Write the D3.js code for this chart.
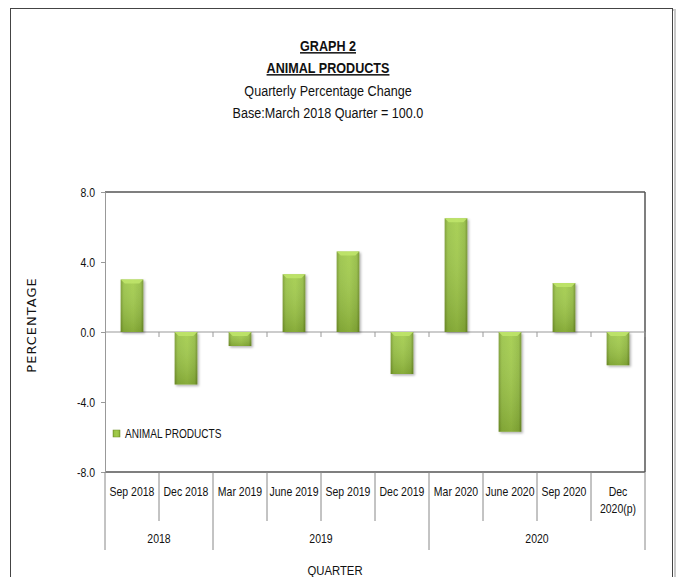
<!DOCTYPE html>
<html>
<head>
<meta charset="utf-8">
<script src="https://cdn.jsdelivr.net/npm/d3@7"></script>
<style>
body { margin: 0; background: #fff; }
text { font-family: "Liberation Sans", Arial, sans-serif; fill: #111; }
</style>
</head>
<body>
<script>
// values
var quarters = ["Sep 2018", "Dec 2018", "Mar 2019", "June 2019", "Sep 2019",
                "Dec 2019", "Mar 2020", "June 2020", "Sep 2020", "Dec 2020(p)"];
var values = [3.0, -3.0, -0.8, 3.3, 4.6, -2.4, 6.5, -5.7, 2.8, -1.9];
var years = ["2018", "2019", "2020"];
var yearCounts = [2, 4, 4];
var yTicks = [-8, -4, 0, 4, 8];
var titles = ["GRAPH 2", "ANIMAL PRODUCTS", "Quarterly Percentage Change", "Base:March 2018 Quarter = 100.0"];

var width = 680,
    height = 577;

// narrow text, like the Calibri of the original
var narrow = 0.84;

var svg = d3.select("body")
            .append("svg")
            .attr("width", width)
            .attr("height", height);

function label(parent, px, py, str, size) {
    return parent.append("text")
                 .attr("transform", "translate(" + px + "," + py + ") scale(" + narrow + ",1)")
                 .attr("text-anchor", "middle")
                 .style("font-size", size + "px")
                 .text(str);
}

var defs = svg.append("defs");
var grad = defs.append("linearGradient").attr("id", "barGrad")
               .attr("x1", "0").attr("x2", "1").attr("y1", "0").attr("y2", "0");
grad.append("stop").attr("offset", "0%").attr("stop-color", "#789a2e");
grad.append("stop").attr("offset", "14%").attr("stop-color", "#98c244");
grad.append("stop").attr("offset", "55%").attr("stop-color", "#a2cc4a");
grad.append("stop").attr("offset", "88%").attr("stop-color", "#92bb40");
grad.append("stop").attr("offset", "100%").attr("stop-color", "#6f8f28");

var shade = defs.append("linearGradient").attr("id", "barShade")
                .attr("x1", "0").attr("x2", "0").attr("y1", "0").attr("y2", "1");
shade.append("stop").attr("offset", "0%").attr("stop-color", "#fff").attr("stop-opacity", 0.08);
shade.append("stop").attr("offset", "100%").attr("stop-color", "#2a3a00").attr("stop-opacity", 0.22);

var shadow = defs.append("filter").attr("id", "shadow")
                 .attr("x", "-20%").attr("y", "-20%").attr("width", "150%").attr("height", "150%");
shadow.append("feDropShadow").attr("dx", 1.5).attr("dy", 1.5).attr("stdDeviation", 1.2)
      .attr("flood-color", "#000").attr("flood-opacity", 0.3);

// outer frame
svg.append("rect").attr("x", 12).attr("y", 10).attr("width", 663).attr("height", 580)
   .attr("fill", "none").attr("stroke", "#c8c8c8").attr("stroke-width", 2);
svg.append("rect").attr("x", 10.5).attr("y", 8.5).attr("width", 662).attr("height", 580)
   .attr("fill", "#fff").attr("stroke", "#444").attr("stroke-width", 1);

// titles
var titleY = [51, 73, 96, 118];
titles.forEach(function(t, i) {
    label(svg, 328, titleY[i], t, 15)
       .style("font-weight", i < 2 ? "bold" : "normal")
       .style("text-decoration", i < 2 ? "underline" : "none");
});

var margin = {left: 105, right: 645, top: 192, bottom: 472};

var x = d3.scaleBand()
          .domain(quarters)
          .range([margin.left, margin.right])
          .paddingInner(0)
          .paddingOuter(0);

var y = d3.scaleLinear()
          .domain([-8, 8])
          .range([margin.bottom, margin.top]);

var g = svg.append("g");

// plot frame: top, right, bottom darker, left axis gray
g.append("line").attr("x1", margin.left).attr("x2", margin.right)
 .attr("y1", y(8)).attr("y2", y(8)).attr("stroke", "#555").attr("stroke-width", 1.5);
g.append("line").attr("x1", margin.right).attr("x2", margin.right)
 .attr("y1", y(8)).attr("y2", y(-8)).attr("stroke", "#555").attr("stroke-width", 1.5);
g.append("line").attr("x1", margin.left).attr("x2", margin.right)
 .attr("y1", y(-8)).attr("y2", y(-8)).attr("stroke", "#555").attr("stroke-width", 1.5);

var fmt = d3.format(".1f");
var yAxis = d3.axisLeft(y)
              .tickValues(yTicks)
              .tickFormat(d => fmt(d).replace("\u2212", "-"))
              .tickSize(4)
              .tickPadding(6);

var ya = g.append("g")
          .attr("transform", "translate(" + margin.left + ",0)")
          .call(yAxis);
ya.select(".domain").attr("stroke", "#999");
ya.selectAll(".tick line").attr("stroke", "#999");
ya.selectAll(".tick text")
  .attr("x", null)
  .attr("transform", "translate(-10,0) scale(" + narrow + ",1)")
  .style("font-size", "12.5px")
  .style("font-family", "\"Liberation Sans\", sans-serif")
  .attr("fill", "#111");

// zero line with ticks at category boundaries
g.append("line").attr("x1", margin.left).attr("x2", margin.right)
 .attr("y1", y(0)).attr("y2", y(0)).attr("stroke", "#999").attr("stroke-width", 1);
g.selectAll(".zt")
 .data(quarters)
 .enter()
 .append("line")
    .attr("class", "zt")
    .attr("x1", d => x(d) + x.bandwidth())
    .attr("x2", d => x(d) + x.bandwidth())
    .attr("y1", y(0))
    .attr("y2", y(0) + 5)
    .attr("stroke", "#999");

// bars
var barW = x.bandwidth() * 0.42;
var bars = g.selectAll(".bar")
            .data(values)
            .enter()
            .append("g")
            .attr("class", "bar")
            .attr("filter", "url(#shadow)");

bars.append("rect")
    .attr("x", (d, i) => x(quarters[i]) + (x.bandwidth() - barW) / 2)
    .attr("y", d => y(Math.max(0, d)))
    .attr("width", barW)
    .attr("height", d => Math.abs(y(d) - y(0)))
    .attr("fill", "url(#barGrad)");

bars.append("rect")
    .attr("x", (d, i) => x(quarters[i]) + (x.bandwidth() - barW) / 2)
    .attr("y", d => y(Math.max(0, d)))
    .attr("width", barW)
    .attr("height", d => Math.abs(y(d) - y(0)))
    .attr("fill", "url(#barShade)");

// bevel on the outer end of each bar
bars.append("path")
    .attr("d", function(d, i) {
        var x0 = x(quarters[i]) + (x.bandwidth() - barW) / 2,
            x1 = x0 + barW,
            yEnd = d >= 0 ? y(d) : y(0),
            s = 4;
        return "M" + x0 + "," + yEnd + "L" + x1 + "," + yEnd +
               "L" + (x1 - s) + "," + (yEnd + s) + "L" + (x0 + s) + "," + (yEnd + s) + "Z";
    })
    .attr("fill", "#bfe46a")
    .attr("opacity", 0.9);

// legend
g.append("rect").attr("x", 113).attr("y", 430).attr("width", 7).attr("height", 7)
 .attr("fill", "url(#barGrad)").attr("stroke", "#6d8c27").attr("stroke-width", 0.5);
label(g, 125, 438, "ANIMAL PRODUCTS", 12).attr("text-anchor", "start");

// category labels
quarters.forEach(function(d) {
    var cx = x(d) + x.bandwidth() / 2;
    var m = d.match(/^(Dec) (2020\(p\))$/);
    if (m) {
        label(g, cx, 496, m[1], 12.5);
        label(g, cx, 513, m[2], 12.5);
    } else {
        label(g, cx, 496, d, 12.5);
    }
});

// separators between quarters, and longer ones between years
var yearStart = [0];
yearCounts.forEach(function(c, i) { yearStart.push(yearStart[i] + c); });

quarters.forEach(function(q, i) {
    if (i === 0) return;
    var isYear = yearStart.indexOf(i) >= 0;
    g.append("line")
     .attr("x1", x(q)).attr("x2", x(q))
     .attr("y1", y(-8)).attr("y2", isYear ? 550 : 521)
     .attr("stroke", "#888");
});
[margin.left, margin.right].forEach(function(px) {
    g.append("line").attr("x1", px).attr("x2", px)
     .attr("y1", y(-8)).attr("y2", 550).attr("stroke", "#888");
});

years.forEach(function(yr, i) {
    var a = x(quarters[yearStart[i]]),
        b = x(quarters[yearStart[i + 1] - 1]) + x.bandwidth();
    label(g, (a + b) / 2, 543, yr, 12.5);
});

// axis titles
label(svg, 335, 575, "QUARTER", 13.5);

svg.append("text")
   .attr("transform", "translate(36,325) rotate(-90)")
   .attr("text-anchor", "middle")
   .style("font-size", "13px")
   .style("letter-spacing", "1px")
   .style("font-family", "\"DejaVu Sans\", sans-serif")
   .attr("fill", "#333")
   .text("PERCENTAGE");
</script>
</body>
</html>
